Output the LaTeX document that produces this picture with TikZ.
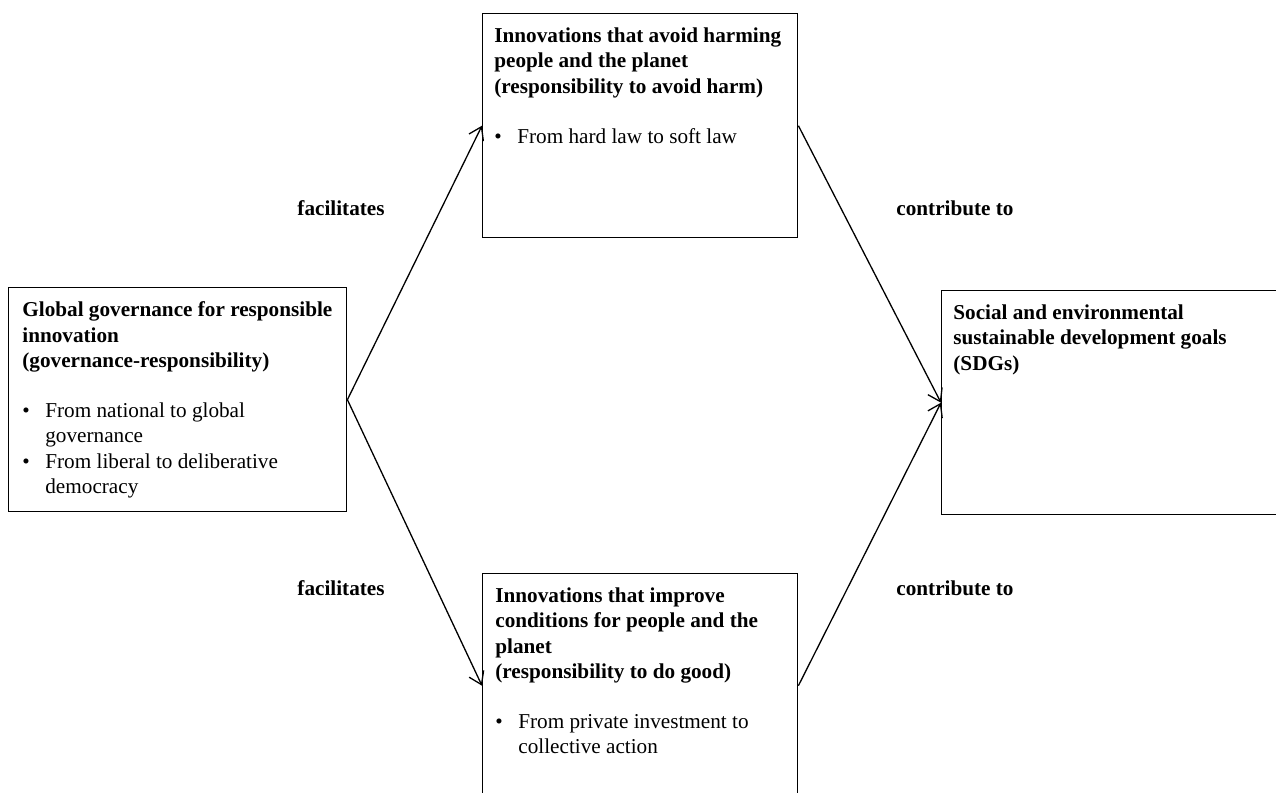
\documentclass[tikz,border=0pt]{standalone}
\usepackage{fontspec}
\setmainfont{Liberation Serif}
\usetikzlibrary{arrows.meta}

\newcommand{\bul}{\makebox[11.5pt][l]{\textbullet}}
\newcommand{\ind}{\hspace*{11.5pt}}

\begin{document}
\begin{tikzpicture}[x=0.5pt,y=-0.5pt,
  >={Straight Barb[length=6pt,width=8pt]},
  every node/.style={font=\fontsize{10.6}{12.6}\selectfont},
  panel/.style={draw,line width=0.7pt,anchor=north west,inner sep=0pt,minimum height=112pt},
  blurb/.style={anchor=north west,align=left,inner sep=0pt}]
  \clip (0,0) rectangle (1276,793);

  \node[panel,minimum width=169pt] (gov) at (8,287) {};
  \node[panel,minimum width=157.5pt] (harm) at (482,13) {};
  \node[panel,minimum width=157.5pt] (good) at (482,573) {};
  \node[panel,minimum width=190pt] (sdg) at (941,290) {};

  \node[blurb] (gov-text) at ([shift={(14,14.5)}]gov.north west)
    {\textbf{Global governance for responsible}\\
     \textbf{innovation}\\
     \textbf{(governance-responsibility)}\\[12.6pt]
     \bul From national to global\\
     \ind governance\\
     \bul From liberal to deliberative\\
     \ind democracy};
  \node[blurb] (harm-text) at ([shift={(12,14.5)}]harm.north west)
    {\textbf{Innovations that avoid harming}\\
     \textbf{people and the planet}\\
     \textbf{(responsibility to avoid harm)}\\[12.6pt]
     \bul From hard law to soft law};
  \node[blurb] (good-text) at ([shift={(13,14.5)}]good.north west)
    {\textbf{Innovations that improve}\\
     \textbf{conditions for people and the}\\
     \textbf{planet}\\
     \textbf{(responsibility to do good)}\\[12.6pt]
     \bul From private investment to\\
     \ind collective action};
  \node[blurb] (sdg-text) at ([shift={(12,14.5)}]sdg.north west)
    {\textbf{Social and environmental}\\
     \textbf{sustainable development goals}\\
     \textbf{(SDGs)}};

  \draw[->,line width=0.65pt] (gov.east) -- (harm.west);
  \draw[->,line width=0.65pt] (gov.east) -- (good.west);
  \draw[->,line width=0.65pt] (harm.east) -- (sdg.west);
  \draw[->,line width=0.65pt] (good.east) -- (sdg.west);

  \foreach \y/\pos in {215/top, 595/bottom} {
    \node[anchor=base] (fac-\pos) at (341,\y) {\textbf{facilitates}};
    \node[anchor=base] (con-\pos) at (955,\y) {\textbf{contribute to}};
  }
\end{tikzpicture}
\end{document}
